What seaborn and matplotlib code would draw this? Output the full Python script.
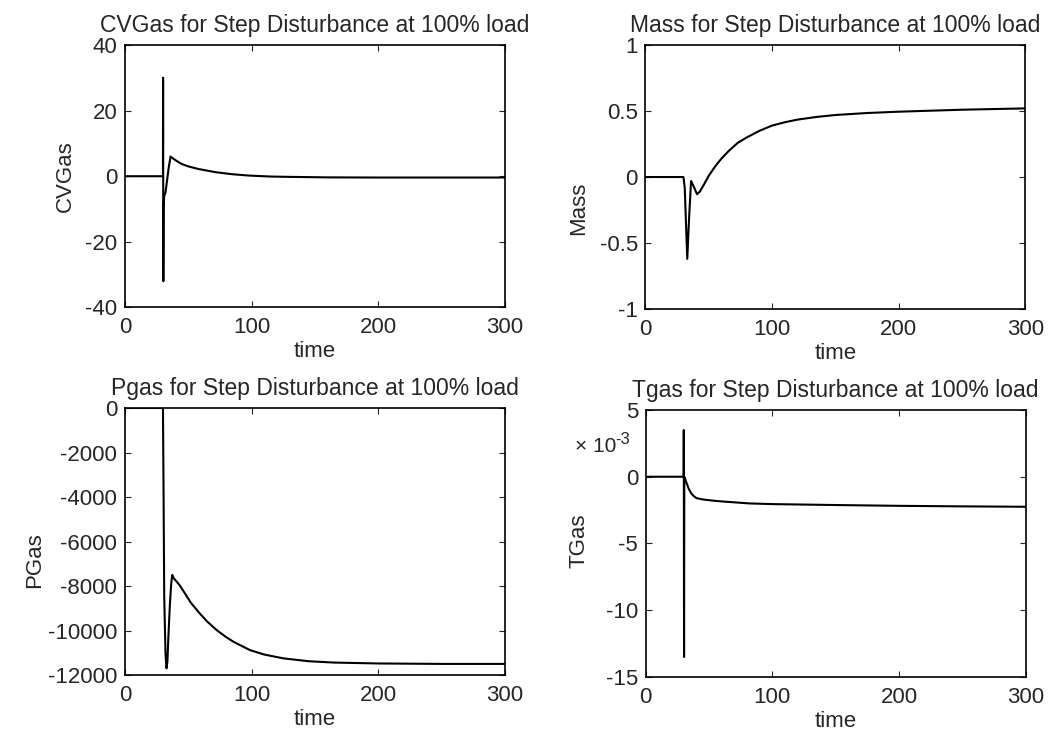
import numpy as np
import pandas as pd
import matplotlib
matplotlib.use("Agg")
import matplotlib.pyplot as plt
import seaborn as sns

# --- values (time in s) ---
t_cv = [0, 30, 30.1, 30.3, 30.5, 31, 32, 33, 34.5, 36, 38, 41, 45, 50, 58, 65, 72, 85, 98, 115, 130, 160, 200, 250, 300]
cvgas = [0, 0, 30, -32, -9, -6, -5, -2, 2.5, 6, 5.4, 4.6, 3.7, 3.0, 2.2, 1.7, 1.2, 0.6, 0.2, -0.1, -0.2, -0.35, -0.4, -0.4, -0.4]

t_mass = [0, 30, 31, 32, 33, 34.5, 36, 38, 40.7, 43, 46, 50, 55, 60, 66, 73, 80, 90, 100, 110, 120, 135, 150, 175, 200, 250, 300]
mass = [0, 0, -0.08, -0.35, -0.62, -0.3, -0.03, -0.07, -0.13, -0.11, -0.06, 0.01, 0.08, 0.14, 0.2, 0.26, 0.3, 0.35, 0.39, 0.415, 0.435, 0.455, 0.47, 0.485, 0.495, 0.51, 0.52]

t_p = [0, 30, 30.5, 31, 32, 32.8, 33.5, 34.5, 35.5, 36.5, 37.3, 38.5, 40.8, 43, 47, 52, 59, 65, 72.4, 80, 85.5, 98.7, 110, 125, 145, 165, 200, 250, 300]
pgas = [0, 0, -4000, -8500, -11000, -11700, -11400, -10000, -8800, -7900, -7500, -7650, -7800, -7950, -8300, -8750, -9230, -9600, -9980, -10300, -10500, -10880, -11080, -11250, -11380, -11440, -11480, -11500, -11500]

t_t = [0, 30, 30.1, 30.3, 30.5, 32, 34, 36, 38, 40, 45, 52, 60, 82, 100, 150, 200, 250, 300]
tgas = [0, 0, 3.5, -13.5, 0, -0.4, -0.9, -1.25, -1.45, -1.6, -1.7, -1.78, -1.85, -2.0, -2.05, -2.12, -2.18, -2.22, -2.25]  # x 1e-3

panels = [
    ("CVGas for Step Disturbance at 100% load", "CVGas", t_cv, cvgas, (-40, 40), [-40, -20, 0, 20, 40]),
    ("Mass for Step Disturbance at 100% load", "Mass", t_mass, mass, (-1, 1), [-1, -0.5, 0, 0.5, 1]),
    ("Pgas for Step Disturbance at 100% load", "PGas", t_p, pgas, (-12000, 0), [-12000, -10000, -8000, -6000, -4000, -2000, 0]),
    ("Tgas for Step Disturbance at 100% load", "TGas", t_t, tgas, (-15, 5), [-15, -10, -5, 0, 5]),
]

sns.set_style("ticks", {"xtick.direction": "in", "ytick.direction": "in"})
plt.rcParams["font.family"] = ["Liberation Sans", "DejaVu Sans"]
plt.rcParams["axes.linewidth"] = 1.2

fig = plt.figure(figsize=(10.59, 7.30), dpi=100)
rects = [
    [0.118, 0.5788, 0.3588, 0.3596],
    [0.6095, 0.5767, 0.3588, 0.3616],
    [0.118, 0.0753, 0.3588, 0.3658],
    [0.6097, 0.0726, 0.3588, 0.3658],
]
ylab_pos = [(-0.13, 0.5), (-0.147, 0.38), (-0.21, 0.43), (-0.147, 0.51)]

for rect, lpos, (title, ylab, t, v, ylim, yticks) in zip(rects, ylab_pos, panels):
    ax = fig.add_axes(rect)
    df = pd.DataFrame({"time": t, "val": v})
    sns.lineplot(data=df, x="time", y="val", ax=ax, color="black", lw=1.5,
                 estimator=None, sort=False)
    ax.set_xlim(0, 300)
    ax.set_ylim(*ylim)
    ax.set_xticks([0, 100, 200, 300])
    ax.set_yticks(yticks)
    ax.set_yticklabels([f"{y:g}" for y in yticks])
    ax.tick_params(labelsize=16, length=4, width=0.8, top=True, right=True)
    ax.tick_params(axis="x", pad=7)
    ax.tick_params(axis="y", pad=5.5)
    ax.set_title(title, fontsize=16.5, pad=9.5)
    ax.set_xlabel("time", fontsize=16, labelpad=2)
    ax.set_ylabel(ylab, fontsize=16)
    ax.yaxis.set_label_coords(*lpos)
    for s in ax.spines.values():
        s.set_visible(True)
        s.set_color("black")

# exponent note of the TGas axis
fig.text(0.543, 0.389, "× 10", fontsize=15, ha="left", va="center")
fig.text(0.581, 0.398, "-3", fontsize=12, ha="left", va="center")

fig.savefig("out.png", dpi=100)
